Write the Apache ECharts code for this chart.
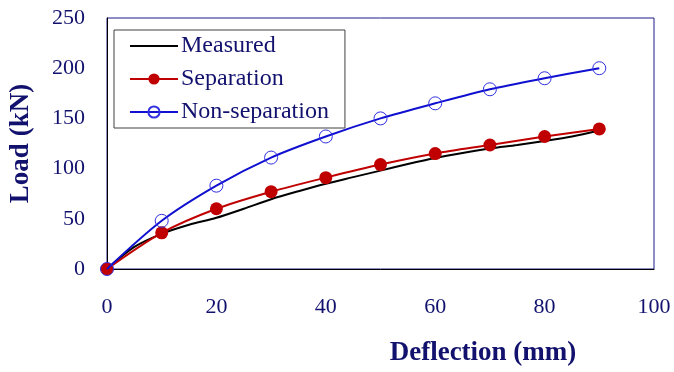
<!DOCTYPE html>
<html>
<head>
<meta charset="utf-8">
<script src="https://cdn.jsdelivr.net/npm/echarts@6/dist/echarts.min.js"></script>
<style>html,body{margin:0;padding:0;background:#fff;overflow:hidden}#c{width:674px;height:372px}</style>
</head>
<body>
<div id="c"></div>
<script>
var measuredX = [0, 5, 10, 15, 20, 25, 30, 35, 40, 45, 50, 55, 60, 65, 70, 75, 80, 85, 90];
var measuredY = [0, 22, 35, 44, 51, 60, 69.5, 77.5, 85, 91.5, 98, 104.5, 110.5, 115.5, 120, 123.5, 127.5, 132, 138];
var modelX = [0, 10, 20, 30, 40, 50, 60, 70, 80, 90];
var separationY = [0, 36, 60, 77, 91, 104, 115, 123.5, 132, 139.5];
var nonSeparationY = [0, 48, 83, 111, 132, 150, 165, 179, 190, 200];
var seriesNames = ['Measured', 'Separation', 'Non-separation'];
var xTitle = 'Deflection (mm)';
var yTitle = 'Load (kN)';

function pairs(xs, ys) { return xs.map(function (x, i) { return [x, ys[i]]; }); }

var navy = '#12126e';
var font = 'Liberation Serif';
var chart = echarts.init(document.getElementById('c'), null, { width: 674, height: 372 });
chart.setOption({
  animation: false,
  backgroundColor: '#fff',
  grid: { left: 106.5, width: 547.5, top: 18, height: 266, show: true, borderColor: '#1c1c8a', borderWidth: 1, containLabel: false },
  legend: {
    orient: 'vertical', left: 114, top: 30,
    padding: [4, 16, 4, 15], itemGap: 9, itemWidth: 48, itemHeight: 14,
    borderColor: '#404040', borderWidth: 1, backgroundColor: '#fff',
    textStyle: { fontFamily: font, fontSize: 24, lineHeight: 24, color: navy, padding: [0, 0, 0, -2] },
    data: [
      { name: seriesNames[0], itemStyle: { color: 'rgba(0,0,0,0)', borderWidth: 0 } },
      { name: seriesNames[1] },
      { name: seriesNames[2] }
    ]
  },
  xAxis: {
    type: 'value', min: 0, max: 100, interval: 20,
    name: xTitle, nameLocation: 'middle', nameGap: 71,
    nameTextStyle: { fontFamily: font, fontSize: 27, fontWeight: 'bold', color: navy, padding: [0, 0, 0, 205] },
    axisLine: { show: true, lineStyle: { color: '#000', width: 1 } },
    axisTick: { show: false },
    splitLine: { show: false },
    axisLabel: { fontFamily: font, fontSize: 22, color: navy, margin: 27 }
  },
  yAxis: {
    type: 'value', min: 0, max: 250, interval: 50,
    name: yTitle, nameLocation: 'middle', nameGap: 72,
    nameTextStyle: { fontFamily: font, fontSize: 27, fontWeight: 'bold', color: navy },
    axisLine: { show: true, lineStyle: { color: '#000', width: 1 } },
    axisTick: { show: false },
    splitLine: { show: false },
    axisLabel: { fontFamily: font, fontSize: 22, color: navy, margin: 22 }
  },
  series: [
    {
      name: seriesNames[0], type: 'line', smooth: 0.3, symbol: 'none',
      data: pairs(measuredX, measuredY),
      lineStyle: { color: '#000', width: 2 }, itemStyle: { color: '#000' }, z: 2
    },
    {
      name: seriesNames[1], type: 'line', smooth: 0.3, symbol: 'circle', symbolSize: 13,
      data: pairs(modelX, separationY),
      lineStyle: { color: '#c00000', width: 2 }, itemStyle: { color: '#c00000' }, z: 3
    },
    {
      name: seriesNames[2], type: 'line', smooth: 0.3, symbol: 'circle', symbolSize: 13,
      data: pairs(modelX, nonSeparationY),
      lineStyle: { color: '#1010d0', width: 2 },
      itemStyle: { color: 'rgba(255,255,255,0)', borderColor: '#3030e0', borderWidth: 1 }, z: 4
    }
  ]
});
</script>
</body>
</html>
